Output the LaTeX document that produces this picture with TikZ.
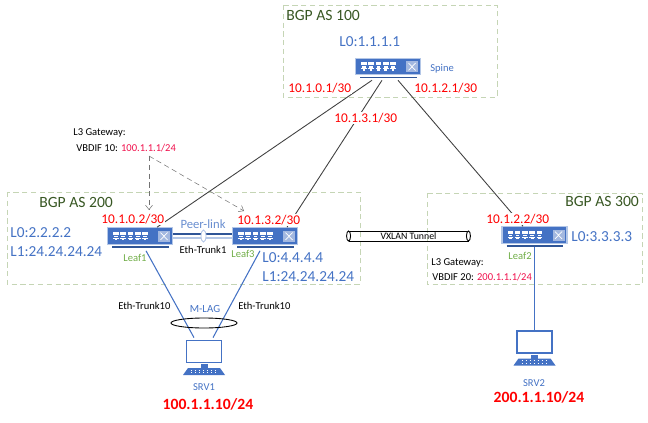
\documentclass[tikz,border=0pt]{standalone}
\usepackage{fontspec}
\usetikzlibrary{arrows.meta}
\setmainfont{Carlito}
\definecolor{netblue}{HTML}{4472C4}
\definecolor{plateblue}{HTML}{2F5597}
\definecolor{edgeblue}{HTML}{B4C7E7}
\definecolor{crossblue}{HTML}{A3B8E0}
\definecolor{leafgreen}{HTML}{70AD47}
\definecolor{boxgreen}{HTML}{C5D5B5}
\definecolor{asgreen}{HTML}{385723}
\definecolor{gwred}{HTML}{F0104C}
\tikzset{
  switchbox/.style={rectangle,fill=netblue,draw=edgeblue,line width=.6pt,minimum width=1.3cm,minimum height=.33cm,inner sep=0},
  pcscreen/.style={rectangle,fill=white,draw=netblue,line width=1pt,minimum width=.7cm,minimum height=.44cm,inner sep=0},
  asbox/.style={draw=boxgreen,densely dashed,line width=.4pt},
  astext/.style={anchor=west,inner sep=0,text=asgreen,font=\fontsize{8.9}{10}\selectfont},
  lotext/.style={anchor=west,inner sep=0,text=netblue,font=\fontsize{8.7}{10}\selectfont},
  iptext/.style={anchor=west,inner sep=.6pt,fill=white,text=red,font=\fontsize{7.6}{9}\selectfont},
  leaftext/.style={anchor=west,inner sep=0,text=leafgreen,font=\fontsize{6}{7}\selectfont},
  smalltext/.style={anchor=west,inner sep=0,font=\fontsize{6}{7}\selectfont},
  srvtext/.style={inner sep=0,text=netblue,font=\fontsize{6}{7}\selectfont},
  hosttext/.style={inner sep=0,text=red,font=\bfseries\fontsize{8.9}{10}\selectfont},
  uplink/.style={draw=black!75,line width=.5pt},
  downlink/.style={draw=netblue,line width=.6pt},
  gwlink/.style={draw=black!55,densely dashed,line width=.3pt,-{Straight Barb[length=2.5pt,width=4pt]}}
}
% switch: name, x, y
\newcommand{\switchicon}[3]{%
  \node[switchbox] (#1) at (#2,#3) {};
  \begin{scope}[shift={(#2,#3)}]
    \draw[plateblue,line width=1pt] (-28,11) -- (28.5,11);
    \foreach \p in {0,...,4} {
      \fill[white] (-27+7.3*\p,-4.2) rectangle +(5.6,3.2);
      \fill[white] (-26+7.3*\p,-.2) rectangle +(3.6,1.4);
      \fill[white] (-27+7.3*\p,1.6) rectangle +(5.6,1.2);
      \fill[white] (-25.5+7.3*\p,2.8) rectangle +(2.6,1.4);
    }
    \fill[crossblue] (18,-5.2) rectangle (30,5.8);
    \draw[white,line width=.4pt] (20.5,-3.5) -- (27.5,4) (20.5,4) -- (27.5,-3.5);
  \end{scope}
}
% pc: name, x, y
\newcommand{\pcicon}[3]{%
  \node[pcscreen] (#1) at (#2,#3) {};
  \begin{scope}[shift={(#2,#3)}]
    \fill[netblue] (-3.5,12.5) rectangle (3.5,16.5);
    \fill[netblue] (-21,23.5) -- (-16,16.5) -- (16,16.5) -- (21,23.5) -- cycle;
    \foreach \r in {18.5,21}
    \draw[white,line width=.3pt,dotted] (-13,\r) -- (13,\r);
  \end{scope}
}
\begin{document}
\begin{tikzpicture}[x=.02cm,y=-.02cm]
  \useasboundingbox (0,0) rectangle (648,422);
  \draw[asbox] (283,5) rectangle (497,97);
  \draw[asbox] (7,192) rectangle (360,284);
  \draw[asbox] (427,193) rectangle (642,284);

  \switchicon{spine}{388}{66.5}
  \switchicon{leafone}{140}{236}
  \switchicon{leafthree}{265}{236}
  \switchicon{leaftwo}{534.5}{235}
  \pcicon{srvone}{204}{351.5}
  \pcicon{srvtwo}{534.5}{342}

  \draw[uplink] ([xshift=-.32cm,yshift=-.1cm]spine.south) -- ([xshift=.34cm]leafone.north);
  \draw[uplink] ([xshift=-.12cm,yshift=-.1cm]spine.south) -- ([xshift=.44cm]leafthree.north);
  \draw[uplink] ([xshift=.2cm,yshift=-.1cm]spine.south) -- ([xshift=-.23cm]leaftwo.north);

  \draw[downlink] ([xshift=.12cm,yshift=-.12cm]leafone.south) -- ([xshift=-.2cm,yshift=.04cm]srvone.north);
  \draw[downlink] ([xshift=-.1cm,yshift=-.12cm]leafthree.south) -- ([xshift=.18cm,yshift=.04cm]srvone.north);
  \draw[downlink] ([yshift=-.06cm]leaftwo.south) -- (srvtwo.north);

  % peer-link
  \draw[plateblue,line width=.6pt] ([yshift=.04cm]leafone.east) -- ([yshift=.04cm]leafthree.west);
  \draw[edgeblue,line width=1pt] ([yshift=-.04cm]leafone.east) -- ([yshift=-.04cm]leafthree.west);
  \draw[edgeblue,fill=white,line width=.5pt] (203.5,236) ellipse (2.5 and 6);
  \draw[black,line width=.5pt] (204,323) ellipse (33 and 5);

  % vxlan tunnel
  \node[draw,line width=.5pt,minimum width=2.38cm,minimum height=.2cm,inner sep=0,font=\fontsize{5.6}{6}\selectfont] (tunnel) at (408.5,236) {VXLAN Tunnel};
  \draw[black,fill=white,line width=.5pt] (tunnel.west) ellipse (2 and 5);
  \draw[black,fill=white,line width=.5pt] (tunnel.east) ellipse (2 and 5);

  % gateway arrows
  \coordinate (gwtop) at (149,156);
  \coordinate (gwleft) at (149,210);
  \coordinate (gwright) at (244,211);
  \draw[gwlink] (gwtop) -- (gwleft);
  \draw[gwlink] (gwtop) -- (gwright);

  \node[astext] (asone) at (286,15) {BGP AS 100};
  \node[astext] (astwo) at (39,202) {BGP AS 200};
  \node[astext] (asthree) at (565,201) {BGP AS 300};

  \node[lotext] (spinelo) at (339,42) {L0:1.1.1.1};
  \node[lotext] (leafonelo) at (10,233) {L0:2.2.2.2};
  \node[lotext] (leafonel) at (10,252) {L1:24.24.24.24};
  \node[lotext] (leafthreelo) at (262,258) {L0:4.4.4.4};
  \node[lotext] (leafthreel) at (262,277) {L1:24.24.24.24};
  \node[lotext] (leaftwolo) at (571,237) {L0:3.3.3.3};

  \node[iptext] (ipa) at (287,88) {10.1.0.1/30};
  \node[iptext] (ipb) at (413,88) {10.1.2.1/30};
  \node[iptext] (ipc) at (333,118) {10.1.3.1/30};
  \node[iptext] (ipd) at (100,219) {10.1.0.2/30};
  \node[iptext] (ipe) at (236,220) {10.1.3.2/30};
  \node[iptext] (ipf) at (485,219) {10.1.2.2/30};

  \node[srvtext,anchor=west] (spinename) at (430,69) {Spine};
  \node[leaftext] (leafonename) at (123,258) {Leaf1};
  \node[leaftext] (leafthreename) at (231,254) {Leaf3};
  \node[leaftext] (leaftwoname) at (508,256) {Leaf2};

  \node[smalltext] (gwa) at (73,133) {L3 Gateway:};
  \node[smalltext] (gwb) at (76,148) {VBDIF 10: \textcolor{gwred}{100.1.1.1/24}};
  \node[smalltext] (gwc) at (431,263) {L3 Gateway:};
  \node[smalltext] (gwd) at (432,277) {VBDIF 20: \textcolor{gwred}{200.1.1.1/24}};

  \node[inner sep=0,text=netblue!80,font=\fontsize{7.2}{8}\selectfont] (peer) at (203,224) {Peer-link};
  \node[smalltext,anchor=center] (trunkone) at (203,250) {Eth-Trunk1};
  \node[smalltext] (trunka) at (118,306) {Eth-Trunk10};
  \node[smalltext] (trunkb) at (238,306) {Eth-Trunk10};
  \node[srvtext,font=\fontsize{6.2}{7}\selectfont] (mlag) at (205,309) {M-LAG};

  \node[srvtext] (srvonename) at (204,387) {SRV1};
  \node[srvtext] (srvtwoname) at (534,383) {SRV2};
  \node[hosttext] (hostone) at (208,404) {100.1.1.10/24};
  \node[hosttext] (hosttwo) at (539,397) {200.1.1.10/24};
\end{tikzpicture}
\end{document}
